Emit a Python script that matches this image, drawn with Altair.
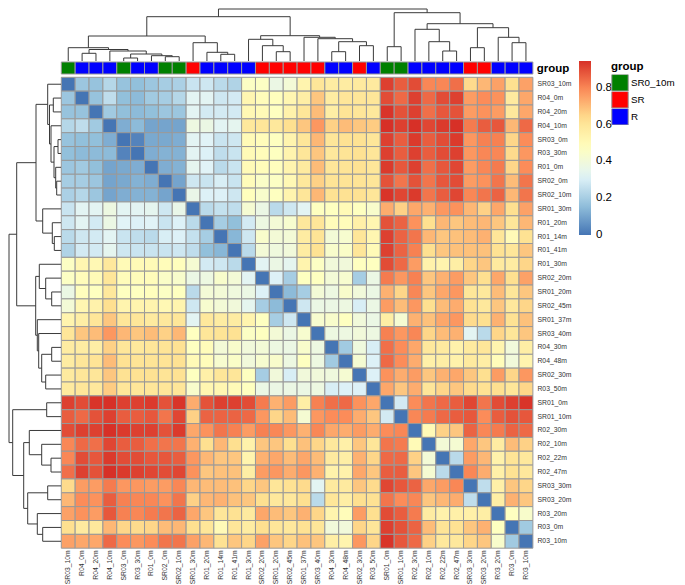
import altair as alt
import pandas as pd

samples = ["SR03_10m","R04_0m","R04_20m","R04_10m","SR03_0m","R03_30m","R01_0m","SR02_0m","SR02_10m",
           "SR01_30m","R01_20m","R01_14m","R01_41m","R01_30m","SR02_20m","SR01_20m","SR02_45m","SR01_37m",
           "SR03_40m","R04_30m","R04_48m","SR02_30m","R03_50m","SR01_0m","SR01_10m","R02_30m","R02_10m",
           "R02_22m","R02_47m","SR03_30m","SR03_20m","R03_20m","R03_0m","R03_10m"]
groups = ["SR0_10m","R","R","R","SR0_10m","R","R","SR0_10m","SR0_10m","SR","R","R","R","R","SR","SR","SR","SR",
          "SR","R","R","SR","R","SR0_10m","SR0_10m","R","R","R","R","SR","SR","R","R","R"]

# upper triangle of the distance matrix (hundredths), row by row, diagonal = 0
upper = [
 [18,17,23,17,16,18,20,21,27,28,24,22,46,46,37,41,53,60,57,57,58,58,92,87,90,80,80,84,64,71,75,63,75],
 [17,25,16,15,19,20,23,33,33,28,29,52,49,48,52,56,68,57,60,60,60,90,85,92,85,90,92,76,79,78,58,74],
 [19,16,15,16,18,18,33,29,29,29,51,50,47,54,60,70,56,61,60,59,94,89,92,84,88,89,76,78,76,59,74],
 [12,15,10,10,10,38,37,33,34,59,60,59,63,68,77,66,70,68,67,95,92,95,91,93,95,82,87,88,71,85],
 [3,11,11,12,33,32,27,28,50,49,47,53,60,71,60,62,62,60,92,87,93,87,90,93,77,81,81,65,79],
 [12,13,13,33,31,25,27,50,49,47,53,60,68,59,61,62,60,92,87,92,87,90,92,77,80,80,64,77],
 [12,13,34,32,24,27,50,49,48,53,58,70,60,61,62,60,93,88,92,84,88,91,76,80,82,65,79],
 [10,28,27,30,27,49,45,46,51,59,66,61,61,61,60,89,83,89,83,88,90,76,78,83,70,83],
 [36,31,31,28,48,44,47,53,60,71,62,62,62,60,94,91,93,83,87,91,80,83,86,71,83],
 [24,26,25,42,37,24,28,33,47,47,50,47,44,73,66,74,72,77,78,71,66,74,63,75],
 [20,16,29,38,41,43,59,60,49,49,55,52,89,86,78,63,71,68,70,71,68,60,71],
 [14,28,44,41,41,57,61,41,43,60,52,92,86,83,71,68,69,70,72,60,50,62],
 [24,41,39,40,57,62,44,45,60,50,92,86,81,63,68,69,69,69,62,60,68],
 [33,37,34,53,46,40,40,47,47,90,85,76,54,53,56,65,68,58,57,65],
 [31,20,47,47,41,43,20,37,82,77,81,68,72,76,68,63,74,63,75],
 [15,20,41,38,44,40,37,72,65,80,68,74,77,60,59,70,60,68],
 [28,37,37,38,30,37,76,70,77,63,70,73,62,59,68,59,65],
 [43,44,47,40,37,56,42,72,69,74,77,64,63,72,62,69],
 [38,38,40,38,81,77,80,65,70,72,33,24,65,60,68],
 [19,39,30,84,79,74,59,58,54,58,60,53,40,56],
 [42,31,85,79,73,55,56,54,58,56,49,40,53],
 [31,78,73,76,68,72,74,68,63,76,65,77],
 [74,68,73,60,65,68,64,62,63,60,65],
 [29,79,83,85,87,91,83,90,92,94],
 [80,82,85,87,88,79,87,89,88],
 [50,66,68,86,80,82,86,85],
 [41,42,74,68,57,70,66],
 [24,76,71,54,61,59],
 [80,73,55,62,59],
 [25,55,68,65],
 [56,72,68],
 [47,44],
 [19],
]

# hierarchical clustering: (child, child, merge height); ids >= 34 are earlier merges
merges = [
 (4,5,3),(7,8,4.3),(6,35,5.3),(34,36,7),(3,37,10),(1,2,7.7),(39,38,11.5),(0,40,13.3),
 (11,12,6.7),(10,42,8.7),(9,43,18.3),(41,44,25),
 (15,16,9.3),(14,46,15.3),(13,47,21.7),(19,20,9.3),(21,22,15.3),(49,50,19.3),(18,51,22.3),(17,52,23.7),
 (48,53,25.3),(45,54,44.3),
 (23,24,14.3),(27,28,10),(26,57,19.3),(25,58,31.7),(29,30,13.3),(32,33,18.3),(31,61,23.7),(60,62,33.3),
 (59,63,37.3),(56,64,48.3),(55,65,52),
]

color_ticks = [0, 0.2, 0.4, 0.6, 0.8]
color_domain = [-0.001, 0.158, 0.316, 0.473, 0.631, 0.789, 0.947]
color_range = ["#4575B4", "#91BFDB", "#E0F3F8", "#FFFFBF", "#FEE090", "#FC8D59", "#D73027"]
group_names = ["SR0_10m", "SR", "R"]
group_colors = ["#008000", "#FF0000", "#0000FF"]

FONT = "Liberation Sans"
N = len(samples)
CW, CH = 13.87, 13.85   # pixels per cell
X0, Y0 = 61.3, 77.3     # heatmap corner within the page
W, H = 669, 577
BASE = 61.0

xscale = alt.Scale(domain=[(8 - X0) / CW, (8 + W - X0) / CW], nice=False, zero=False)
yscale = alt.Scale(domain=[(8 - Y0) / CH, (8 + H - Y0) / CH], nice=False, zero=False, reverse=True)
X = lambda f: alt.X(f, type="quantitative", scale=xscale, axis=None)
Y = lambda f: alt.Y(f, type="quantitative", scale=yscale, axis=None)

# heatmap table
rows = []
for i in range(N):
    rows.append(dict(x=i, x2=i + 1, y=i, y2=i + 1, v=0.0))
    for k, val in enumerate(upper[i] if i < len(upper) else []):
        j = i + 1 + k
        rows.append(dict(x=j, x2=j + 1, y=i, y2=i + 1, v=val / 100))
        rows.append(dict(x=i, x2=i + 1, y=j, y2=j + 1, v=val / 100))
cells = pd.DataFrame(rows)

heat = alt.Chart(cells).mark_rect(stroke="#999999", strokeWidth=1).encode(
    x=X("x"), x2="x2", y=Y("y"), y2="y2",
    color=alt.Color("v:Q",
        scale=alt.Scale(domain=color_domain, range=color_range, clamp=True, interpolate="rgb"),
        legend=alt.Legend(orient="none", legendX=571, legendY=53, title=None, values=color_ticks,
                          direction="vertical", gradientLength=174, gradientThickness=12,
                          labelFontSize=11.5, labelFont=FONT, labelColor="#000000",
                          labelOffset=5, gradientStrokeWidth=0, format="~g")),
)

# annotation strip
strip = pd.DataFrame(dict(x=range(N), x2=[i + 1 for i in range(N)], group=groups,
                          y=[(62 - Y0) / CH] * N, y2=[(74 - Y0) / CH] * N))
annot = alt.Chart(strip).mark_rect(stroke="#999999", strokeWidth=1).encode(
    x=X("x"), x2="x2", y=Y("y"), y2="y2",
    color=alt.Color("group:N",
        scale=alt.Scale(domain=group_names, range=group_colors),
        legend=alt.Legend(orient="none", legendX=603, legendY=53, title="group",
                          titleFont=FONT, titleFontSize=11.5, titleFontWeight="bold", titleColor="#000000",
                          titlePadding=2, labelFont=FONT, labelFontSize=9.8, labelColor="#000000",
                          symbolType="square", symbolSize=270, symbolStrokeColor="#999999", symbolStrokeWidth=1,
                          rowPadding=0, clipHeight=16.5, labelOffset=2, symbolOpacity=1)),
)

# dendrograms from the merge table
pos = {i: i + 0.5 for i in range(N)}
hgt = {i: 0.0 for i in range(N)}
segs_top, segs_left = [], []
for k, (a, b, h) in enumerate(merges):
    node = N + k
    pos[node] = (pos[a] + pos[b]) / 2
    hgt[node] = h
    for (p1, h1, p2, h2) in [(pos[a], h, pos[b], h), (pos[a], hgt[a], pos[a], h), (pos[b], hgt[b], pos[b], h)]:
        segs_top.append(dict(x=p1, x2=p2, y=(BASE - h1 - Y0) / CH, y2=(BASE - h2 - Y0) / CH))
        segs_left.append(dict(y=p1, y2=p2, x=(BASE - h1 - X0) / CW, x2=(BASE - h2 - X0) / CW))
dend = pd.DataFrame(segs_top + segs_left)
dendro = alt.Chart(dend).mark_rule(color="#3a3a3a", strokeWidth=1).encode(
    x=X("x"), x2="x2", y=Y("y"), y2="y2")

# labels
right = pd.DataFrame(dict(x=[N + 0.33] * N, y=[i + 0.5 for i in range(N)], t=samples))
right_text = alt.Chart(right).mark_text(align="left", baseline="middle", font=FONT, fontSize=6.8, color="#333333").encode(
    x=X("x"), y=Y("y"), text="t:N")
bottom = pd.DataFrame(dict(x=[i + 0.5 for i in range(N)], y=[N + 0.15] * N, t=samples))
bottom_text = alt.Chart(bottom).mark_text(angle=270, align="right", baseline="middle", font=FONT, fontSize=6.8, color="#333333").encode(
    x=X("x"), y=Y("y"), text="t:N")
gl = pd.DataFrame(dict(x=[N + 0.28], y=[(68.5 - Y0) / CH], t=["group"]))
group_text = alt.Chart(gl).mark_text(align="left", baseline="middle", font=FONT, fontSize=11.5, fontWeight="bold", color="#000000").encode(
    x=X("x"), y=Y("y"), text="t:N")

chart = alt.layer(heat, annot, dendro, right_text, bottom_text, group_text).resolve_scale(color="independent").properties(
    width=W, height=H, padding=0, autosize=alt.AutoSizeParams(type="none"), background="white"
).configure_view(stroke=None)

chart.save("out.html", embed_options={"renderer": "svg", "actions": False})
